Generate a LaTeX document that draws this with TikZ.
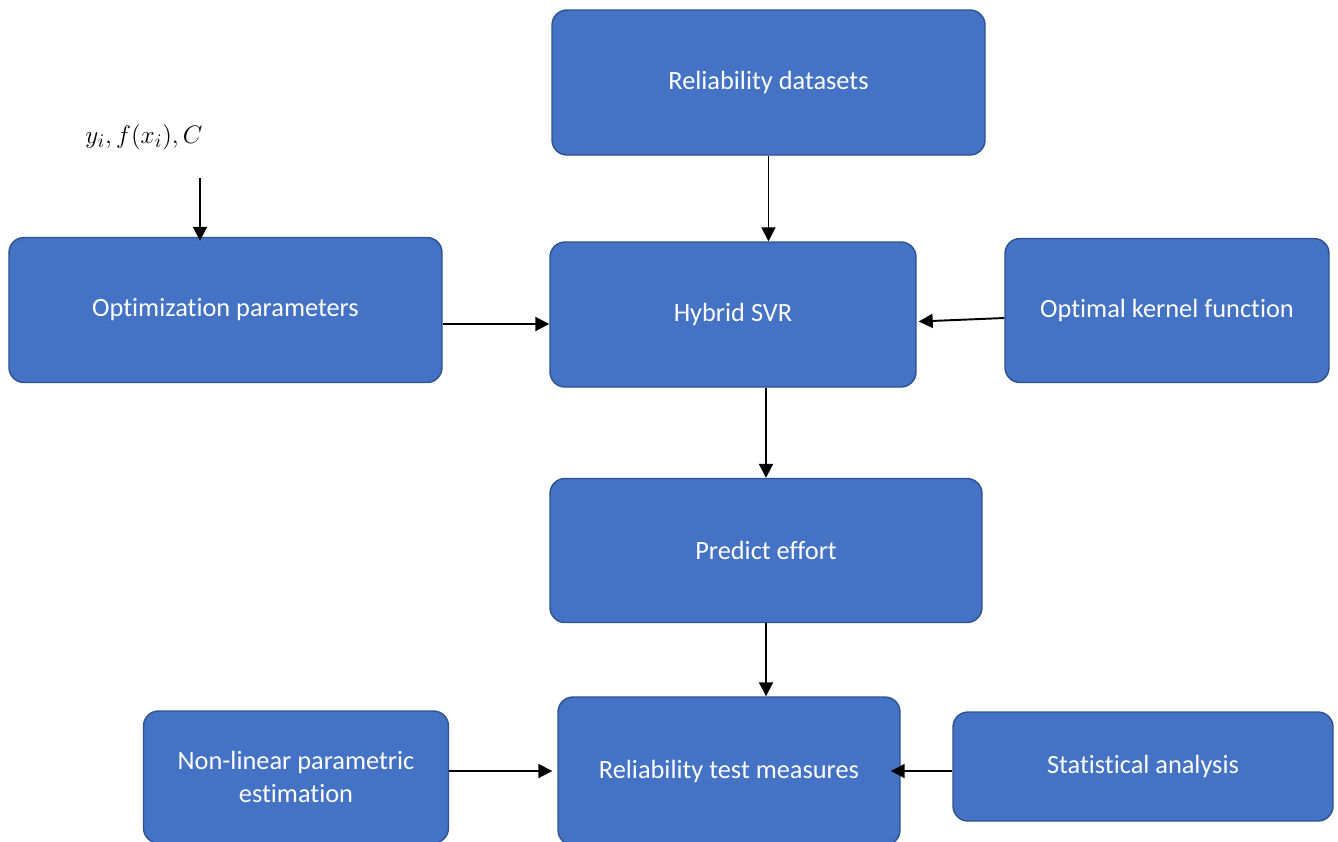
\documentclass[tikz,border=0pt]{standalone}
\usepackage{fontspec}
\setmainfont{Carlito}[Ligatures=NoCommon]
\usepackage{amsmath}
\usepackage{xcolor}
\usepackage{tikz}
\usetikzlibrary{arrows.meta,calc,positioning}
\definecolor{boxfill}{HTML}{4472C4}
\definecolor{boxline}{HTML}{2F528F}
\tikzset{
  block/.style={draw=boxline, line width=0.8pt, rounded corners=0.3cm, fill=boxfill, text=white, align=center, font=\fontsize{15}{18.5}\selectfont},
  flow/.style={-{Triangle[length=2.8mm,width=2.8mm]}, line width=1.1pt, black}
}

\begin{document}
\begin{tikzpicture}[x=1cm,y=1cm]
  \useasboundingbox (0,0) rectangle (26.76,-16.82);

  \node[block, minimum width=8.66cm, minimum height=2.9cm] (data) at (15.37,-1.65) {Reliability datasets};
  \node[block, minimum width=8.66cm, minimum height=2.9cm] (opt) at (4.51,-6.2) {Optimization parameters};
  \node[block, minimum width=7.32cm, minimum height=2.9cm] (svr) at (14.66,-6.29) {Hybrid SVR};
  \node[block, minimum width=6.48cm, minimum height=2.88cm] (kernel) at (23.34,-6.21) {Optimal kernel function};
  \node[block, minimum width=8.64cm, minimum height=2.88cm] (effort) at (15.32,-11.01) {Predict effort};
  \node[block, minimum width=6.1cm, minimum height=2.64cm] (nonlin) at (5.92,-15.54) {Non-linear parametric\\estimation};
  \node[block, minimum width=6.84cm, minimum height=2.96cm] (measures) at (14.58,-15.42) {Reliability test measures};
  \node[block, minimum width=7.6cm, minimum height=2.18cm] (stat) at (22.86,-15.33) {Statistical analysis};

  \node[font=\fontsize{15}{18}\selectfont] (params) at (2.88,-2.74) {$y_i, f(x_i), C$};
  \coordinate (inp) at (4.0,-3.56);

  \draw[flow] (inp) -- ([yshift=-0.08cm]inp |- opt.north);
  \draw[flow] (data.south) -- (data.south |- svr.north);
  \draw[flow] ([yshift=-0.28cm]opt.east) -- ([yshift=-0.28cm]opt.east -| svr.west);
  \draw[flow] ([yshift=-0.15cm]kernel.west) -- ([xshift=0.04cm,yshift=-0.14cm]svr.east);
  \draw[flow] (svr.south -| effort.north) -- (effort.north);
  \draw[flow] (effort.south) -- (effort.south |- measures.north);
  \draw[flow] ([yshift=0.12cm]nonlin.east) -- ([xshift=-0.1cm,yshift=0.12cm]nonlin.east -| measures.west);
  \draw[flow] ([yshift=-0.09cm]stat.west) -- ([xshift=-0.2cm,yshift=-0.09cm]stat.west -| measures.east);
\end{tikzpicture}
\end{document}
